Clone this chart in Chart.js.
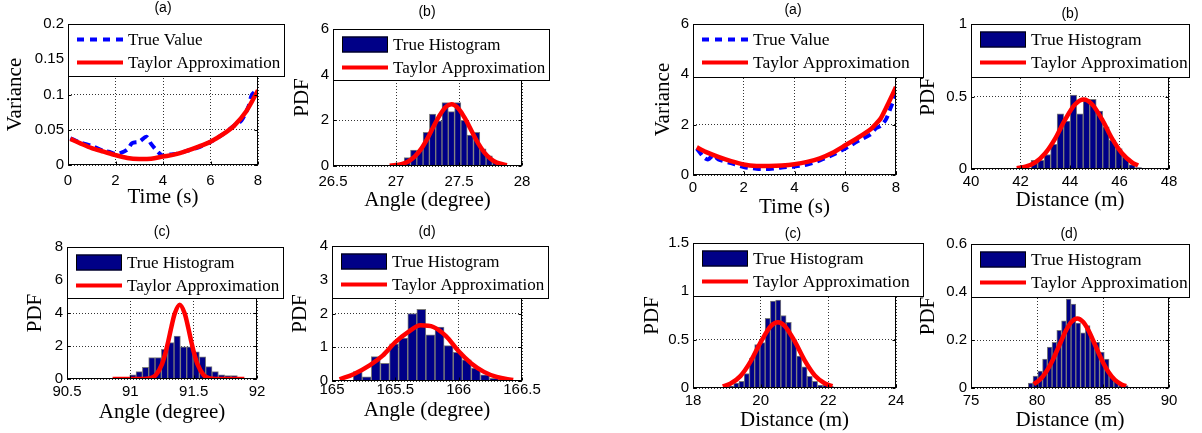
<!DOCTYPE html>
<html>
<head>
<meta charset="utf-8">
<title>Variance and PDF comparison</title>
<script src="https://cdn.jsdelivr.net/npm/chart.js@4.4.0/dist/chart.umd.min.js"></script>
<style>
    body { margin: 0; background: #fff; }
    #wrap { position: relative; width: 1202px; height: 433px; overflow: hidden; }
    #wrap canvas { position: absolute; left: 0; top: 0; }
</style>
</head>
<body>
<div id="wrap">
    <canvas id="la" width="1202" height="433"></canvas>
    <canvas id="lb" width="1202" height="433"></canvas>
    <canvas id="lc" width="1202" height="433"></canvas>
    <canvas id="ld" width="1202" height="433"></canvas>
    <canvas id="ra" width="1202" height="433"></canvas>
    <canvas id="rb" width="1202" height="433"></canvas>
    <canvas id="rc" width="1202" height="433"></canvas>
    <canvas id="rd" width="1202" height="433"></canvas>
</div>
<script>
// ---------- left figure ----------
// (a) variance over time
var laTrueTime = [0.1, 0.5, 1.0, 1.5, 1.7, 2.0, 2.2, 2.5, 2.7, 3.0, 3.3, 3.5, 3.8, 4.0, 4.3, 4.6, 5.0, 5.5, 6.0, 6.5, 7.0, 7.3, 7.6, 7.75, 8.0];
var laTrueVar = [0.038, 0.032, 0.027, 0.020, 0.019, 0.016, 0.017, 0.022, 0.031, 0.033, 0.040, 0.030, 0.018, 0.013, 0.015, 0.016, 0.020, 0.025, 0.033, 0.043, 0.056, 0.063, 0.083, 0.100, 0.107];
var laTaylorTime = [0.1, 0.5, 1, 1.5, 2, 2.5, 3, 3.5, 4, 4.5, 5, 5.5, 6, 6.5, 7, 7.5, 8];
var laTaylorVar = [0.037, 0.031, 0.024, 0.019, 0.014, 0.010, 0.0085, 0.009, 0.012, 0.015, 0.020, 0.026, 0.033, 0.043, 0.056, 0.076, 0.106];

// (b) angle histogram
var lbBins = [26.94, 26.99, 27.04, 27.09, 27.14, 27.19, 27.24, 27.29, 27.34, 27.39, 27.44, 27.49, 27.54, 27.59, 27.64, 27.69, 27.74, 27.79, 27.84, 27.89];
var lbHist = [0.03, 0, 0.05, 0.37, 0.70, 0.70, 1.47, 2.27, 1.98, 2.78, 2.38, 2.78, 2.00, 1.35, 1.47, 0.75, 0.45, 0.20, 0.08, 0.03];
var lbAngle = [26.95, 27.0, 27.05, 27.1, 27.15, 27.2, 27.25, 27.3, 27.35, 27.4, 27.44, 27.5, 27.55, 27.6, 27.65, 27.7, 27.75, 27.8, 27.88];
var lbPdf = [0.01, 0.04, 0.09, 0.21, 0.42, 0.75, 1.21, 1.75, 2.25, 2.61, 2.70, 2.49, 2.06, 1.53, 1.01, 0.60, 0.32, 0.15, 0.04];

// (c) angle histogram
var lcBins = [90.87, 90.92, 90.97, 91.02, 91.07, 91.12, 91.17, 91.22, 91.27, 91.32, 91.37, 91.42, 91.47, 91.52, 91.57, 91.62, 91.67, 91.72, 91.77, 91.82, 91.87];
var lcHist = [0.03, 0, 0, 0.25, 0.45, 0.70, 1.30, 1.30, 1.80, 2.20, 2.60, 1.95, 1.95, 1.65, 1.35, 0.75, 0.45, 0.25, 0.20, 0.20, 0.05];
var lcAngle = [90.86, 91.0, 91.1, 91.15, 91.2, 91.25, 91.275, 91.3, 91.325, 91.35, 91.39, 91.43, 91.455, 91.48, 91.505, 91.53, 91.58, 91.63, 91.68, 91.8, 91.9];
var lcPdf = [0, 0, 0.005, 0.04, 0.23, 0.90, 1.52, 2.31, 3.18, 3.95, 4.50, 3.95, 3.18, 2.31, 1.52, 0.90, 0.23, 0.04, 0.005, 0, 0];

// (d) angle histogram
var ldBins = [165.059, 165.131, 165.203, 165.274, 165.346, 165.418, 165.490, 165.562, 165.634, 165.705, 165.777, 165.849, 165.921, 165.993, 166.064, 166.136, 166.208, 166.280, 166.352, 166.423];
var ldHist = [0.02, 0, 0.28, 0.12, 0.72, 0.52, 1.10, 1.27, 2.00, 2.12, 1.37, 1.60, 1.05, 0.85, 0.63, 0.38, 0.18, 0.08, 0.04, 0.02];
var ldAngle = [165.06, 165.17, 165.3, 165.4, 165.5, 165.6, 165.7, 165.8, 165.9, 166.0, 166.1, 166.2, 166.3, 166.43];
var ldPdf = [0.05, 0.20, 0.47, 0.75, 1.15, 1.45, 1.65, 1.60, 1.33, 0.88, 0.52, 0.27, 0.12, 0.03];

// ---------- right figure ----------
// (a) variance over time
var raTrueTime = [0.15, 0.45, 0.6, 0.8, 1.0, 1.5, 2.0, 2.5, 3.0, 3.5, 4.0, 4.5, 5.0, 5.5, 6.0, 6.5, 7.0, 7.2, 7.4, 7.6, 7.8, 8.0];
var raTrueVar = [1.05, 0.68, 0.62, 0.78, 0.62, 0.47, 0.32, 0.25, 0.24, 0.30, 0.34, 0.42, 0.58, 0.80, 1.05, 1.35, 1.62, 1.85, 1.95, 2.20, 2.70, 3.20];
var raTaylorTime = [0.15, 0.5, 1, 1.5, 2, 2.5, 3, 3.5, 4, 4.5, 5, 5.5, 6, 6.5, 7, 7.4, 7.7, 8];
var raTaylorVar = [1.10, 0.92, 0.72, 0.55, 0.42, 0.36, 0.36, 0.38, 0.43, 0.52, 0.66, 0.88, 1.18, 1.48, 1.82, 2.25, 2.85, 3.50];

// (b) distance histogram
var rbBins = [41.771, 42.034, 42.297, 42.560, 42.823, 43.086, 43.349, 43.612, 43.875, 44.138, 44.401, 44.664, 44.927, 45.190, 45.453, 45.716, 45.979, 46.242, 46.505, 46.768];
var rbHist = [0.005, 0, 0, 0.06, 0.06, 0.10, 0.17, 0.38, 0.33, 0.51, 0.38, 0.48, 0.48, 0.40, 0.29, 0.20, 0.14, 0.08, 0.03, 0.01];
var rbDist = [41.85, 42.2, 42.6, 43.0, 43.4, 43.8, 44.2, 44.55, 44.9, 45.3, 45.7, 46.1, 46.5, 46.75];
var rbPdf = [0.005, 0.016, 0.046, 0.109, 0.21, 0.34, 0.445, 0.48, 0.445, 0.34, 0.21, 0.109, 0.046, 0.024];

// (c) distance histogram
var rcBins = [18.815, 18.970, 19.125, 19.280, 19.435, 19.590, 19.745, 19.900, 20.055, 20.210, 20.365, 20.520, 20.675, 20.830, 20.985, 21.140, 21.295, 21.450, 21.605, 21.760, 21.915, 22.070, 22.225];
var rcHist = [0.005, 0, 0.02, 0.05, 0.07, 0.15, 0.31, 0.45, 0.47, 0.72, 0.90, 0.91, 0.75, 0.68, 0.50, 0.33, 0.22, 0.12, 0.07, 0.03, 0.03, 0.02, 0.01];
var rcDist = [18.88, 19.1, 19.4, 19.7, 20.0, 20.3, 20.51, 20.7, 21.0, 21.3, 21.6, 21.9, 22.12];
var rcPdf = [0.017, 0.043, 0.123, 0.273, 0.474, 0.64, 0.68, 0.646, 0.487, 0.286, 0.13, 0.047, 0.019];

// (d) distance histogram
var rdBins = [79.52, 79.88, 80.24, 80.60, 80.96, 81.32, 81.68, 82.04, 82.40, 82.76, 83.12, 83.48, 83.84, 84.20, 84.56, 84.92, 85.28, 85.64, 86.00, 86.36, 86.72];
var rdHist = [0.02, 0.05, 0.07, 0.12, 0.17, 0.19, 0.24, 0.28, 0.37, 0.35, 0.27, 0.23, 0.26, 0.20, 0.19, 0.15, 0.12, 0.05, 0.03, 0.02, 0.01];
var rdDist = [79.75, 80.2, 80.7, 81.2, 81.7, 82.2, 82.6, 83.05, 83.5, 83.9, 84.4, 84.9, 85.4, 85.9, 86.4, 86.75];
var rdPdf = [0.016, 0.034, 0.068, 0.118, 0.179, 0.24, 0.275, 0.29, 0.275, 0.24, 0.179, 0.118, 0.068, 0.034, 0.015, 0.008];

var PAGE_W = 1202, PAGE_H = 433;
var SERIF = '"Liberation Serif", "Times New Roman", serif';
var SANS = '"Liberation Sans", Arial, sans-serif';

function pts(xs, ys) {
    return xs.map(function (x, i) { return { x: x, y: ys[i] }; });
}

// matlab style tick text: 0.2 not 0.20, 27 not 27.0
function tickText(v) {
    return String(+Number(v).toFixed(6));
}

function varianceSets(tTrue, vTrue, tTay, vTay, redTension) {
    return [{
        type: 'line', label: 'True Value', data: pts(tTrue, vTrue), order: 2,
        borderColor: '#0000ff', borderWidth: 4, borderDash: [8, 5], legendDash: [7, 6],
        pointRadius: 0, tension: 0.3, fill: false
    }, {
        type: 'line', label: 'Taylor Approximation', data: pts(tTay, vTay), order: 1,
        borderColor: '#ff0000', borderWidth: 4.5, pointRadius: 0, tension: redTension, fill: false
    }];
}

function histSets(bins, counts, xs, ys) {
    return [{
        type: 'bar', label: 'True Histogram', data: pts(bins, counts), order: 2,
        backgroundColor: '#000087', borderColor: '#7a7a7a', borderWidth: 1,
        categoryPercentage: 1, barPercentage: 1, grouped: false
    }, {
        type: 'line', label: 'Taylor Approximation', data: pts(xs, ys), order: 1,
        borderColor: '#ff0000', borderWidth: 4.5, pointRadius: 0,
        cubicInterpolationMode: 'monotone', fill: false
    }];
}

// box, inward ticks, legend and panel letter, MATLAB style
var panelDecor = {
    id: 'panelDecor',
    afterDatasetsDraw: function (chart) {
        var a = chart.chartArea, ctx = chart.ctx;
        var sx = chart.scales.x, sy = chart.scales.y;
        var l = Math.round(a.left) + 0.5, r = Math.round(a.right) - 0.5;
        var t = Math.round(a.top) + 0.5, b = Math.round(a.bottom) - 0.5;
        ctx.save();
        ctx.strokeStyle = '#000';
        ctx.lineWidth = 1;
        ctx.beginPath();
        sx.ticks.forEach(function (tk) {
            var px = Math.round(sx.getPixelForValue(tk.value)) + 0.5;
            ctx.moveTo(px, b); ctx.lineTo(px, b - 3);
            ctx.moveTo(px, t); ctx.lineTo(px, t + 3);
        });
        sy.ticks.forEach(function (tk) {
            var py = Math.round(sy.getPixelForValue(tk.value)) + 0.5;
            ctx.moveTo(l, py); ctx.lineTo(l + 3, py);
            ctx.moveTo(r, py); ctx.lineTo(r - 3, py);
        });
        ctx.stroke();
        ctx.strokeRect(l, t, r - l, b - t);
        ctx.restore();
    },
    afterDraw: function (chart, args, o) {
        var ctx = chart.ctx, g = o.legend;
        ctx.save();
        // legend box
        ctx.fillStyle = '#fff';
        ctx.fillRect(g[0], g[1], g[2] - g[0], g[3] - g[1]);
        ctx.strokeStyle = '#000';
        ctx.lineWidth = 1;
        ctx.strokeRect(g[0] + 0.5, g[1] + 0.5, g[2] - g[0], g[3] - g[1]);
        chart.data.datasets.forEach(function (ds, i) {
            var y = g[1] + 15.5 + i * 23;
            var x0 = g[0] + 9, x1 = g[0] + 55;
            if (ds.type === 'bar') {
                ctx.fillStyle = ds.backgroundColor;
                ctx.fillRect(x0, y - 8, x1 - x0, 16);
                ctx.strokeStyle = '#000';
                ctx.lineWidth = 1;
                ctx.strokeRect(x0 + 0.5, y - 7.5, x1 - x0 - 1, 15);
            } else {
                ctx.strokeStyle = ds.borderColor;
                ctx.lineWidth = 4;
                ctx.setLineDash(ds.legendDash || []);
                ctx.beginPath();
                ctx.moveTo(x0, y); ctx.lineTo(x1, y);
                ctx.stroke();
                ctx.setLineDash([]);
            }
            ctx.fillStyle = '#000';
            ctx.font = o.legendFont + 'px ' + SERIF;
            ctx.textAlign = 'left';
            ctx.textBaseline = 'middle';
            ctx.fillText(ds.label, g[0] + 60, y + 1);
        });
        // panel letter
        ctx.font = '14px ' + SANS;
        ctx.textAlign = 'center';
        ctx.textBaseline = 'middle';
        ctx.fillStyle = '#000';
        ctx.fillText(o.title, o.titleX, o.titleY);
        ctx.restore();
    }
};

function makePanel(p) {
    var yW = p.box[0] - p.yTitleX + 10.5;
    var xH = p.xTitleY - p.box[3] + 10.5;
    var tickFont = { family: SANS, size: 15 };
    var titleFont = { family: SERIF, size: 21, lineHeight: 1 };
    // dotted grid, like matlab's "grid on"
    var grid = { color: '#333', lineWidth: 1, drawTicks: false, offset: false };
    var border = { display: false, dash: [1, 2] };

    return new Chart(document.getElementById(p.id), {
        type: p.type,
        data: { datasets: p.datasets },
        plugins: [panelDecor],
        options: {
            responsive: false,
            animation: false,
            devicePixelRatio: 1,
            events: [],
            layout: {
                padding: {
                    left: p.box[0] - yW,
                    top: p.box[1],
                    right: PAGE_W - p.box[2],
                    bottom: PAGE_H - p.box[3] - xH
                }
            },
            plugins: {
                legend: { display: false },
                tooltip: { enabled: false },
                panelDecor: { title: p.title, titleX: p.titleX, titleY: p.titleY, legend: p.legend, legendFont: p.legendFont }
            },
            scales: {
                x: {
                    type: 'linear', min: p.x[0], max: p.x[1], offset: false,
                    grid: grid, border: border,
                    ticks: { stepSize: p.x[2], color: '#000', font: tickFont, padding: p.xTickPad, maxRotation: 0, autoSkip: false, callback: tickText },
                    title: { display: true, text: p.xTitle, color: '#000', font: titleFont, padding: 0 },
                    afterFit: function (s) { s.height = xH; s.paddingLeft = 0; s.paddingRight = 0; }
                },
                y: {
                    type: 'linear', min: p.y[0], max: p.y[1],
                    grid: grid, border: border,
                    ticks: { stepSize: p.y[2], color: '#000', font: tickFont, padding: 4, autoSkip: false, callback: tickText },
                    title: { display: true, text: p.yTitle, color: '#000', font: titleFont, padding: 0 },
                    afterFit: function (s) { s.width = yW; s.paddingTop = 0; s.paddingBottom = 0; }
                }
            }
        }
    });
}

var panels = [
    { id: 'la', type: 'line', datasets: varianceSets(laTrueTime, laTrueVar, laTaylorTime, laTaylorVar, 0.3),
      box: [68, 24, 258, 165], x: [0, 8, 2], y: [0, 0.2, 0.05], xTitle: 'Time (s)', yTitle: 'Variance',
      yTitleX: 15, xTitleY: 197, xTickPad: 7, title: '(a)', titleX: 163, titleY: 8,
      legend: [68, 24, 284, 76], legendFont: 17 },
    { id: 'lb', type: 'bar', datasets: histSets(lbBins, lbHist, lbAngle, lbPdf),
      box: [333, 29, 522, 166], x: [26.5, 28, 0.5], y: [0, 6, 2], xTitle: 'Angle (degree)', yTitle: 'PDF',
      yTitleX: 302, xTitleY: 200, xTickPad: 7, title: '(b)', titleX: 427, titleY: 12,
      legend: [333, 29, 549, 80], legendFont: 17 },
    { id: 'lc', type: 'bar', datasets: histSets(lcBins, lcHist, lcAngle, lcPdf),
      box: [67, 247, 257, 379], x: [90.5, 92, 0.5], y: [0, 8, 2], xTitle: 'Angle (degree)', yTitle: 'PDF',
      yTitleX: 35, xTitleY: 412, xTickPad: 4, title: '(c)', titleX: 162, titleY: 232,
      legend: [67, 247, 283, 298], legendFont: 17 },
    { id: 'ld', type: 'bar', datasets: histSets(ldBins, ldHist, ldAngle, ldPdf),
      box: [332, 246, 522, 381], x: [165, 166.5, 0.5], y: [0, 4, 1], xTitle: 'Angle (degree)', yTitle: 'PDF',
      yTitleX: 300, xTitleY: 410, xTickPad: 0, title: '(d)', titleX: 427, titleY: 232,
      legend: [332, 246, 548, 298], legendFont: 17 },
    { id: 'ra', type: 'line', datasets: varianceSets(raTrueTime, raTrueVar, raTaylorTime, raTaylorVar, 0.15),
      box: [693, 24, 896, 175], x: [0, 8, 2], y: [0, 6, 2], xTitle: 'Time (s)', yTitle: 'Variance',
      yTitleX: 663, xTitleY: 207, xTickPad: 4, title: '(a)', titleX: 793, titleY: 10,
      legend: [693, 24, 923, 77], legendFont: 17.5 },
    { id: 'rb', type: 'bar', datasets: histSets(rbBins, rbHist, rbDist, rbPdf),
      box: [971, 24, 1169, 169], x: [40, 48, 2], y: [0, 1, 0.5], xTitle: 'Distance (m)', yTitle: 'PDF',
      yTitleX: 928, xTitleY: 200, xTickPad: 4, title: '(b)', titleX: 1070, titleY: 14,
      legend: [971, 24, 1189, 77], legendFont: 17.5 },
    { id: 'rc', type: 'bar', datasets: histSets(rcBins, rcHist, rcDist, rcPdf),
      box: [693, 243, 896, 388], x: [18, 24, 2], y: [0, 1.5, 0.5], xTitle: 'Distance (m)', yTitle: 'PDF',
      yTitleX: 652, xTitleY: 420, xTickPad: 4, title: '(c)', titleX: 793, titleY: 234,
      legend: [693, 243, 923, 296], legendFont: 17.5 },
    { id: 'rd', type: 'bar', datasets: histSets(rdBins, rdHist, rdDist, rdPdf),
      box: [971, 244, 1169, 388], x: [75, 90, 5], y: [0, 0.6, 0.2], xTitle: 'Distance (m)', yTitle: 'PDF',
      yTitleX: 928, xTitleY: 420, xTickPad: 4, title: '(d)', titleX: 1069, titleY: 234,
      legend: [971, 244, 1189, 297], legendFont: 17.5 }
];

try {
    panels.forEach(makePanel);
} catch (e) {
    document.body.insertAdjacentText('beforeend', e.message);
}
</script>
</body>
</html>
